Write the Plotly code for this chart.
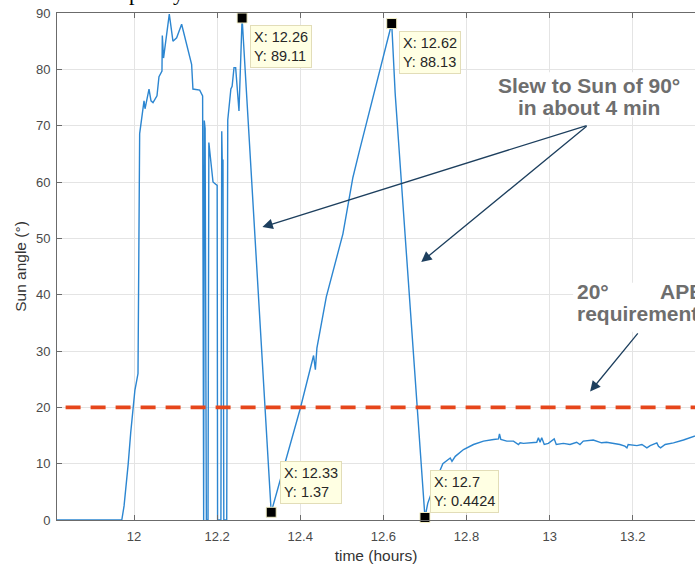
import plotly.graph_objects as go

# ---------------- data ----------------
time_h = [
    11.8146, 11.9705, 11.976, 11.981, 11.986, 11.992, 11.997, 12.002, 12.0065, 12.0095,
    12.0135, 12.024, 12.0264, 12.031, 12.036, 12.0408, 12.0456, 12.0552, 12.060, 12.0672,
    12.068, 12.071, 12.0768, 12.0848, 12.0936, 12.1025, 12.1145, 12.1385, 12.1417, 12.158,
    12.165, 12.1675, 12.169, 12.171, 12.174, 12.178, 12.180, 12.190, 12.195, 12.200,
    12.201, 12.209, 12.211, 12.2125, 12.214, 12.216, 12.223, 12.2255, 12.233, 12.236,
    12.2405, 12.2445, 12.2525, 12.26, 12.33, 12.4, 12.432, 12.4363, 12.44, 12.4626,
    12.5026, 12.5266, 12.5426, 12.58, 12.62, 12.6283, 12.629, 12.7, 12.7067, 12.7267,
    12.743, 12.7608, 12.765, 12.773, 12.7928, 12.8168, 12.8409, 12.865, 12.877, 12.8793,
    12.8826, 12.897, 12.913, 12.925, 12.929, 12.937, 12.953, 12.969, 12.973, 12.977,
    12.981, 12.987, 12.997, 13.011, 13.016, 13.033, 13.049, 13.065, 13.073, 13.081,
    13.105, 13.125, 13.137, 13.153, 13.169, 13.181, 13.186, 13.189, 13.21, 13.222,
    13.234, 13.242, 13.258, 13.262, 13.267, 13.278, 13.298, 13.322, 13.35, 13.36,
]
sun_angle = [
    0, 0, 2.5, 6.0, 10.0, 15.5, 19.8, 23.0, 24.8, 26.0,
    68.6, 74.4, 73.0, 74.5, 76.5, 74.4, 74.1, 75.3, 78.7, 79.7,
    86.0, 82.0, 85.0, 89.8, 85.0, 85.6, 88.0, 80.9, 76.5, 76.3,
    75.3, 0, 70.9, 69.5, 0, 0, 67.0, 60.0, 59.7, 59.4,
    0, 0, 69.0, 62.5, 64.0, 0, 0, 71.0, 76.5, 77.0,
    80.3, 80.3, 72.6, 89.11, 1.37, 19.8, 29.2, 26.7, 30.5, 39.6,
    50.8, 60.8, 65.6, 76.5, 88.13, 75.8, 75.0, 0.4424, 2.95, 7.1,
    10.0, 11.0, 10.4, 11.3, 12.5, 13.4, 14.0, 14.3, 14.4, 15.3,
    14.3, 14.0, 14.0, 13.4, 13.7, 13.6, 13.7, 13.8, 14.6, 13.8,
    14.6, 13.4, 13.6, 14.4, 13.4, 13.6, 13.4, 13.8, 13.4, 14.0,
    14.2, 13.7, 13.8, 13.6, 13.4, 13.1, 12.8, 13.4, 13.2, 13.4,
    12.8, 13.2, 13.7, 13.1, 12.8, 13.4, 13.7, 14.2, 14.9, 15.2,
]

requirement_deg = 20
requirement_x = [11.8353, 13.36]

tip_x = [12.26, 12.33, 12.62, 12.7]
tip_y = [89.11, 1.37, 88.13, 0.4424]

x_ticks = [12, 12.2, 12.4, 12.6, 12.8, 13, 13.2]
x_tick_labels = ["12", "12.2", "12.4", "12.6", "12.8", "13", "13.2"]
y_ticks = [0, 10, 20, 30, 40, 50, 60, 70, 80, 90]
y_tick_labels = ["0", "10", "20", "30", "40", "50", "60", "70", "80", "90"]

# ---------------- figure ----------------
FONT = "Liberation Sans, Arial, Helvetica, sans-serif"
AX = "#6b6b6b"
GRID = "#e4e4e4"
TXT = "#4a4a4a"
NOTE = "#6e6e6e"
ARROW = "#1d3f5e"

fig = go.Figure()

fig.add_trace(go.Scatter(
    x=time_h, y=sun_angle, mode="lines",
    line=dict(color="#2c86d1", width=1.4), showlegend=False, hoverinfo="skip",
))

fig.add_trace(go.Scatter(
    x=requirement_x, y=[requirement_deg] * len(requirement_x), mode="lines",
    line=dict(color="#e6461b", width=3.6, dash="15px,10px"),
    showlegend=False, hoverinfo="skip",
))

fig.add_trace(go.Scatter(
    x=tip_x, y=tip_y, mode="markers",
    marker=dict(symbol="square", size=10, color="black",
                line=dict(color="#f3efc6", width=1)),
    cliponaxis=False, showlegend=False, hoverinfo="skip",
))

# data tips
tip_offsets = [(8, -7, "top"), (9, 8, "bottom"), (7, -7, "top"), (5, 5, "bottom")]
for (tx, ty), (xs, ys, ya) in zip(zip(tip_x, tip_y), tip_offsets):
    fig.add_annotation(
        x=tx, y=ty, xref="x", yref="y", showarrow=False,
        text=f"X: {tx}<br>Y: {ty}", align="left",
        xanchor="left", yanchor=ya, xshift=xs, yshift=ys,
        font=dict(family=FONT, size=14.5, color="#262626"),
        bgcolor="#ffffe3", bordercolor="#e2ddb8", borderwidth=1, borderpad=3,
    )

# white backgrounds behind callout text
fig.add_shape(type="rect", xref="x", yref="y", x0=12.8618, x1=13.3281, y0=71.5, y1=79.5,
              fillcolor="white", line=dict(width=0), layer="above")
fig.add_shape(type="rect", xref="x", yref="y", x0=13.0565, x1=13.40, y0=33.4, y1=42.1,
              fillcolor="white", line=dict(width=0), layer="above")

bold = dict(family=FONT, size=21, color=NOTE)
fig.add_annotation(x=13.095, y=77.2, xref="x", yref="y", showarrow=False,
                   text="<b>Slew to Sun of 90°</b>", font=bold, xanchor="center", yanchor="middle")
fig.add_annotation(x=13.095, y=73.3, xref="x", yref="y", showarrow=False,
                   text="<b>in about 4 min</b>", font=bold, xanchor="center", yanchor="middle")
fig.add_annotation(x=13.061, y=40.6, xref="x", yref="y", showarrow=False,
                   text="<b>20°</b>", font=bold, xanchor="left", yanchor="middle")
fig.add_annotation(x=13.2608, y=40.6, xref="x", yref="y", showarrow=False,
                   text="<b>APE</b>", font=bold, xanchor="left", yanchor="middle")
fig.add_annotation(x=13.0613, y=36.6, xref="x", yref="y", showarrow=False,
                   text="<b>requirement</b>", font=bold, xanchor="left", yanchor="middle")

# arrows
arrows = [
    ((13.0926, 70.1), (12.3089, 52.0)),
    ((13.0926, 70.1), (12.6911, 45.8)),
    ((13.2151, 33.4), (13.0974, 22.8)),
]
for (ax_, ay_), (hx, hy) in arrows:
    fig.add_annotation(
        x=hx, y=hy, ax=ax_, ay=ay_, xref="x", yref="y", axref="x", ayref="y",
        text="", showarrow=True, arrowhead=2, arrowsize=1.6, arrowwidth=1.3,
        arrowcolor=ARROW, standoff=0, startstandoff=0,
    )

# clipped text fragment at the top of the page (only descenders visible)
fig.add_annotation(x=(127 - 57) / 638, y=1.0 + 13 / 507, xref="paper", yref="paper",
                   showarrow=False, xanchor="left", yanchor="middle", yshift=8,
                   text="p&nbsp;&nbsp;&nbsp;&nbsp;&nbsp;&nbsp;y",
                   font=dict(family="Liberation Serif", size=22, color="black"))

fig.update_layout(
    width=695, height=564,
    margin=dict(l=57, r=0, t=13, b=44),
    paper_bgcolor="white", plot_bgcolor="white",
    font=dict(family=FONT, color=TXT),
    showlegend=False,
)

fig.update_xaxes(
    range=[11.8146, 13.3498], tickvals=x_ticks, ticktext=x_tick_labels,
    showline=True, linecolor=AX, linewidth=1, mirror="ticks",
    ticks="inside", ticklen=5, tickcolor=AX, tickwidth=1,
    showgrid=True, gridcolor=GRID, gridwidth=1, zeroline=False,
    tickfont=dict(family=FONT, size=13, color=TXT), ticklabelstandoff=4,
    title=dict(text="time (hours)", font=dict(family=FONT, size=15.5, color="#333333"), standoff=7),
)
fig.update_yaxes(
    range=[0, 90], tickvals=y_ticks, ticktext=y_tick_labels,
    showline=True, linecolor=AX, linewidth=1, mirror=False,
    ticks="inside", ticklen=5, tickcolor=AX, tickwidth=1,
    showgrid=True, gridcolor=GRID, gridwidth=1, zeroline=False,
    tickfont=dict(family=FONT, size=13, color=TXT), ticklabelstandoff=3,
    title=dict(text="Sun angle (°)", font=dict(family=FONT, size=15.5, color="#333333"), standoff=5),
)

fig.write_html("out.html")
